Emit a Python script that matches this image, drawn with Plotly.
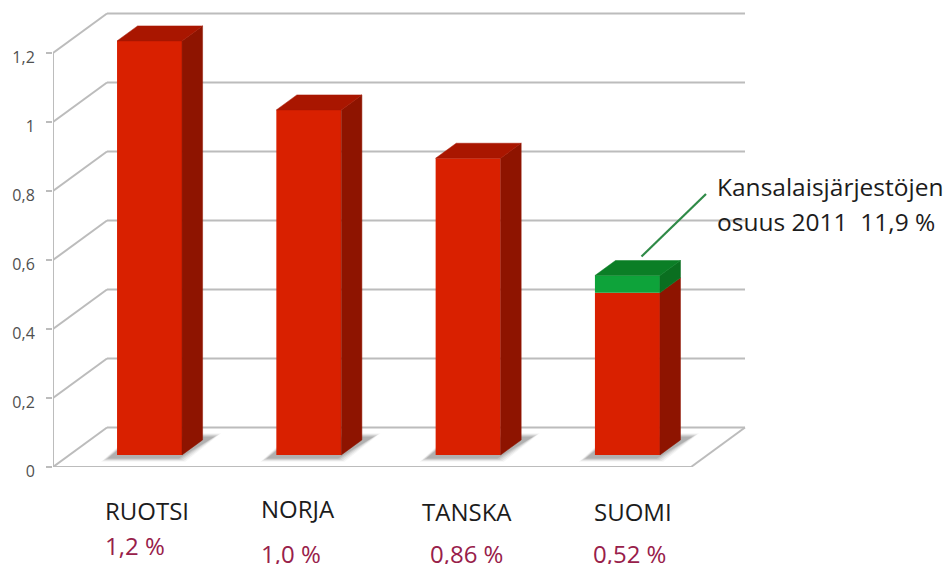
import plotly.graph_objects as go

# ---- data ----
countries = ["RUOTSI", "NORJA", "TANSKA", "SUOMI"]
share_labels = ["1,2 %", "1,0 %", "0,86 %", "0,52 %"]
base_values = [1.2, 1.0, 0.86, 0.47]
ngo_values = [0, 0, 0, 0.05]
tick_values = [0, 0.2, 0.4, 0.6, 0.8, 1.0, 1.2]
tick_labels = ["0", "0,2", "0,4", "0,6", "0,8", "1", "1,2"]
note_lines = ["Kansalaisjärjestöjen", "osuus 2011\u00a0\u00a011,9 %"]

# ---- colours ----
RED_FRONT, RED_SIDE, RED_TOP = "#d92000", "#8e1400", "#a91600"
GREEN_FRONT, GREEN_SIDE, GREEN_TOP = "#0ea33a", "#0a6f20", "#0b7e26"
GRID = "#bcbcbc"
TICK_TXT = "#505050"
NAME_TXT = "#1c1c1c"
SHARE_TXT = "#98204a"

# ---- pseudo-3D geometry (axis units) ----
W, H = 946, 564
X_LEFT_PX, Y_ZERO_PX = 53, 467
PX_PER_X, PX_PER_Y = 159.3, 345.0
x_min = -0.606
x_max = x_min + (W - X_LEFT_PX) / PX_PER_X
y_max = Y_ZERO_PX / PX_PER_Y
BAR_W = 0.408
BAR_LIFT = 0.035       # bars stand part-way into the floor
BAR_DX, BAR_DY = 0.129, 0.0435
WALL_DX, WALL_DY = 0.339, 0.1145
FLOOR_RIGHT = 3.399
positions = list(range(len(countries)))


def ax_x(px):
    return (px - X_LEFT_PX) / PX_PER_X + x_min


def ax_y(py):
    return (Y_ZERO_PX - py) / PX_PER_Y


fig = go.Figure()

# front faces
fig.add_bar(x=positions, y=base_values, base=[BAR_LIFT] * 4, width=BAR_W,
            marker=dict(color=RED_FRONT, line_width=0), hovertext=countries)
ngo_base = [BAR_LIFT + v for v in base_values]
fig.add_bar(x=positions, y=ngo_values, base=ngo_base, width=BAR_W,
            marker=dict(color=GREEN_FRONT, line_width=0), hovertext=countries)


def face(xs, ys, color):
    fig.add_scatter(x=xs, y=ys, mode="lines", fill="toself", fillcolor=color,
                    line=dict(color=color, width=0.5), hoverinfo="skip")


# side and top faces
for p, red, green in zip(positions, base_values, ngo_values):
    xl, xr = p - BAR_W / 2, p + BAR_W / 2
    y0 = BAR_LIFT
    y1 = y0 + red
    y2 = y1 + green
    face([xr, xr + BAR_DX, xr + BAR_DX, xr, xr],
         [y0, y0 + BAR_DY, y1 + BAR_DY, y1, y0], RED_SIDE)
    if green:
        face([xr, xr + BAR_DX, xr + BAR_DX, xr, xr],
             [y1, y1 + BAR_DY, y2 + BAR_DY, y2, y1], GREEN_SIDE)
    face([xl, xl + BAR_DX, xr + BAR_DX, xr, xl],
         [y2, y2 + BAR_DY, y2 + BAR_DY, y2, y2], GREEN_TOP if green else RED_TOP)

# wall and floor lines sit below the bars
shapes = []


def seg(x0, y0, x1, y1, color=GRID, width=2):
    shapes.append(dict(type="line", xref="x", yref="y", x0=x0, y0=y0, x1=x1, y1=y1,
                       layer="below", line=dict(color=color, width=width)))


seg(x_min, 0, x_min, tick_values[-1])
for t in tick_values:
    seg(x_min, t, x_min + WALL_DX, t + WALL_DY)
    seg(x_min + WALL_DX, t + WALL_DY, FLOOR_RIGHT + WALL_DX, t + WALL_DY)
seg(x_min, 0, FLOOR_RIGHT, 0)
seg(FLOOR_RIGHT, 0, FLOOR_RIGHT + WALL_DX, WALL_DY)

# soft floor shadows
for p in positions:
    xl, xr = p - BAR_W / 2, p + BAR_W / 2
    b = BAR_LIFT
    for grow, alpha in [(0.04, 0.07), (0.03, 0.10), (0.02, 0.14), (0.01, 0.18), (0.0, 0.22)]:
        pts = [(xl - 0.06 - grow, b - 0.010 - grow / 4),
               (xr - 0.02 + grow, b - 0.010 - grow / 4),
               (xr + 0.205 + grow, b + 0.053 + grow / 4),
               (xr + 0.05, b + 0.053 + grow / 4),
               (xl + 0.02, b + 0.02 + grow / 4)]
        path = "M " + " L ".join(f"{a:.4f},{c:.4f}" for a, c in pts) + " Z"
        shapes.append(dict(type="path", xref="x", yref="y", path=path, layer="below",
                           fillcolor=f"rgba(110,110,110,{alpha})", line_width=0))

# leader line to the note
shapes.append(dict(type="line", xref="x", yref="y", layer="above",
                   x0=ax_x(641.5), y0=ax_y(256.5), x1=ax_x(706), y1=ax_y(194),
                   line=dict(color="#2f8a47", width=2.2)))

# ---- text (margins are zero, so paper coordinates span the whole page) ----
annotations = []
FONT = "Open Sans"


def label(px, py, text, color, size, anchor="center"):
    annotations.append(dict(xref="paper", yref="paper", x=px / W, y=1 - py / H, text=text,
                            showarrow=False, xanchor=anchor, yanchor="middle", align="left",
                            font=dict(family=FONT, size=size, color=color)))


name_xy = [(147, 510), (298, 508), (467, 511), (633, 511)]
share_xy = [(135, 545), (291, 553), (466, 553), (629, 553)]
for name, share, (nx, ny), (sx, sy) in zip(countries, share_labels, name_xy, share_xy):
    label(nx, ny, name, NAME_TXT, 24)
    label(sx, sy, share, SHARE_TXT, 24)
label(715, 187, note_lines[0], NAME_TXT, 24.5, "left")
label(715, 221, note_lines[1], NAME_TXT, 24.5, "left")

fig.update_layout(
    width=W, height=H, autosize=False, showlegend=False, barmode="overlay",
    margin=dict(l=0, r=0, t=0, b=0), paper_bgcolor="white", plot_bgcolor="white",
    shapes=shapes, annotations=annotations,
    xaxis=dict(domain=[X_LEFT_PX / W, 1], range=[x_min, x_max], visible=False,
               fixedrange=True, automargin=False),
    yaxis=dict(domain=[(H - Y_ZERO_PX) / H, 1], range=[0, y_max], showgrid=False,
               zeroline=False, showline=False, tickmode="array", tickvals=tick_values,
               ticktext=tick_labels, ticks="outside", ticklen=6, tickwidth=2, automargin=False,
               tickcolor=GRID, ticklabelstandoff=8, ticklabelshift=4, fixedrange=True,
               tickfont=dict(family=FONT, size=16, color=TICK_TXT)),
)
fig.write_html("out.html", config=dict(displayModeBar=False),
               post_script="document.body.style.margin='0';document.documentElement.style.overflow='hidden';")
